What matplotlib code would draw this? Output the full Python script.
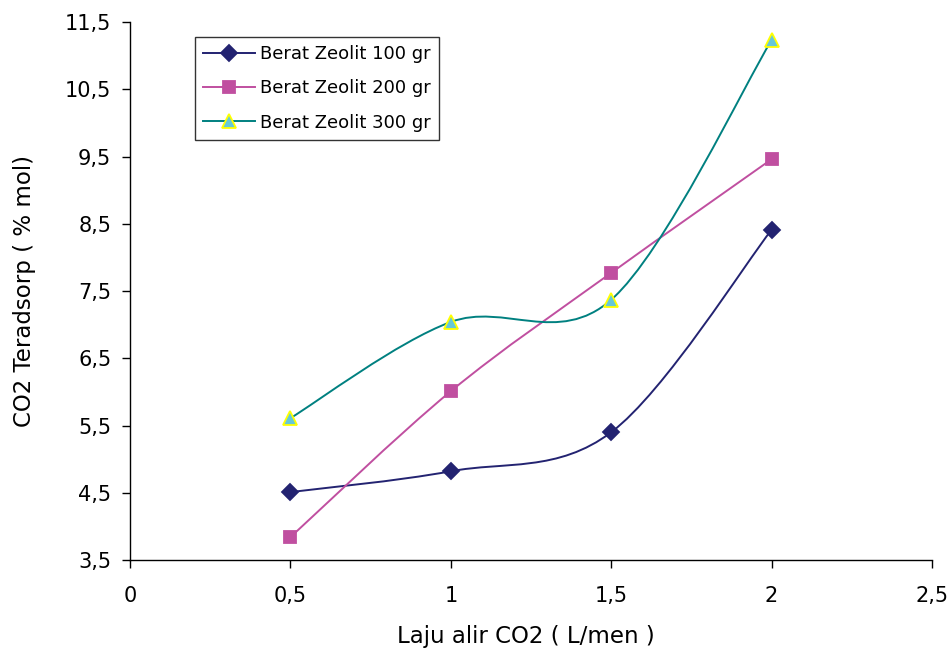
import numpy as np
import matplotlib
matplotlib.use("Agg")
import matplotlib.pyplot as plt
from matplotlib.path import Path
from matplotlib.patches import PathPatch
from matplotlib.lines import Line2D
from matplotlib.ticker import FuncFormatter

x_vals = [0.5, 1.0, 1.5, 2.0]
zeolit_100 = [4.51, 4.82, 5.40, 8.41]
zeolit_200 = [3.84, 6.01, 7.77, 9.46]
zeolit_300 = [5.61, 7.04, 7.37, 11.23]
labels = ["Berat Zeolit 100 gr", "Berat Zeolit 200 gr", "Berat Zeolit 300 gr"]
x_ticks = [0, 0.5, 1, 1.5, 2, 2.5]
y_ticks = [3.5, 4.5, 5.5, 6.5, 7.5, 8.5, 9.5, 10.5, 11.5]

plt.rcParams['font.family'] = ['DejaVu Sans']

fig = plt.figure(figsize=(9.52, 6.53), dpi=100)
ax = fig.add_axes([0.1366, 0.1424, 0.979 - 0.1366, 0.9663 - 0.1424])


def smooth_path(xs, ys):
    pts = np.column_stack([xs, ys]).astype(float)
    n = len(pts)
    verts = [pts[0]]
    codes = [Path.MOVETO]
    for i in range(n - 1):
        p0 = pts[i - 1] if i > 0 else pts[i]
        p1 = pts[i]
        p2 = pts[i + 1]
        p3 = pts[i + 2] if i + 2 < n else pts[i + 1]
        c1 = p1 + (p2 - p0) / 6.0
        c2 = p2 - (p3 - p1) / 6.0
        verts += [c1, c2, p2]
        codes += [Path.CURVE4] * 3
    return Path(verts, codes)


series = [
    (zeolit_100, '#232371', 'D', '#232371', '#232371', 8.5),
    (zeolit_200, '#C04FA0', 's', '#C04FA0', '#C04FA0', 8.5),
    (zeolit_300, '#008080', '^', '#66C8D8', '#FFFF00', 10.5),
]
handles = []
for (ys, lc, mk, mfc, mec, ms), lab in zip(series, labels):
    patch = PathPatch(smooth_path(x_vals, ys), facecolor='none', edgecolor=lc,
                      lw=1.4, zorder=2)
    ax.add_patch(patch)
    ax.plot(x_vals, ys, linestyle='none', marker=mk, markersize=ms,
            markerfacecolor=mfc, markeredgecolor=mec, markeredgewidth=1.3,
            zorder=3)
    handles.append(Line2D([], [], color=lc, lw=1.4, marker=mk, markersize=ms,
                          markerfacecolor=mfc, markeredgecolor=mec,
                          markeredgewidth=1.3))

ax.set_xlim(0, 2.5)
ax.set_ylim(3.5, 11.5)
ax.set_xticks(x_ticks)
ax.set_yticks(y_ticks)
fmt = FuncFormatter(lambda v, p: ('%g' % v).replace('.', ','))
ax.xaxis.set_major_formatter(fmt)
ax.yaxis.set_major_formatter(fmt)
ax.tick_params(axis='both', labelsize=15, length=5.5, width=1, direction='out',
               colors='black')
ax.tick_params(axis='x', pad=13)
ax.tick_params(axis='y', pad=8)
for s in ['top', 'right']:
    ax.spines[s].set_visible(False)
for s in ['left', 'bottom']:
    ax.spines[s].set_linewidth(1)

ax.set_xlabel("Laju alir CO2 ( L/men )", fontsize=16.5)
ax.set_ylabel("CO2 Teradsorp ( % mol)", fontsize=16.5)
ax.xaxis.set_label_coords(0.494, -0.121)
ax.yaxis.set_label_coords(-0.117, 0.5)

leg = ax.legend(handles, labels, loc='upper left',
                bbox_to_anchor=(0.081, 0.972), fontsize=13, frameon=True,
                fancybox=False, edgecolor='black', handlelength=2.9,
                borderpad=0.45, labelspacing=0.9, handletextpad=0.25,
                borderaxespad=0)
leg.get_frame().set_linewidth(1)

fig.savefig("out.png", dpi=100)
